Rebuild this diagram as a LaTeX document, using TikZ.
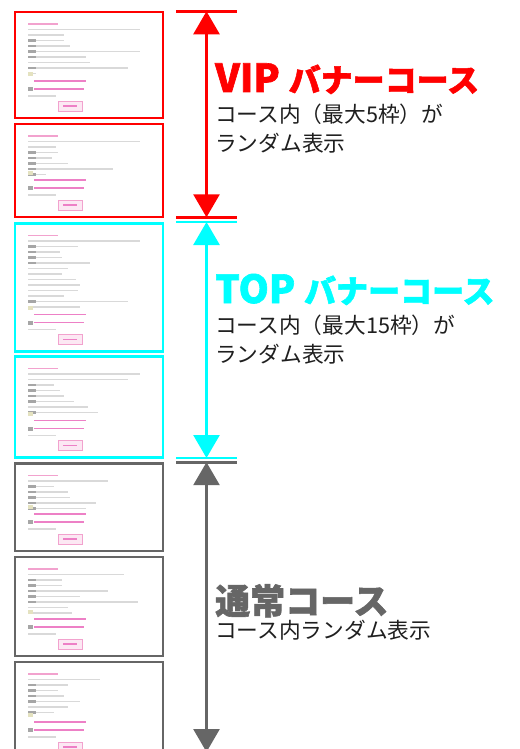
\documentclass[tikz,border=0pt]{standalone}
\usepackage{fontspec}
\usetikzlibrary{arrows.meta}
\newfontfamily\jp{Noto Sans CJK JP}
\newfontfamily\jpheavy[BoldFeatures={FakeBold=1.6}]{Noto Sans CJK JP}
\definecolor{vipred}{HTML}{FF0000}
\definecolor{topcyan}{HTML}{00FFFF}
\definecolor{stdgray}{HTML}{666666}
\definecolor{linkpink}{HTML}{E860B8}
\definecolor{headpink}{HTML}{F2A2CE}

% one banner thumbnail: name, top, bottom, frame style, text lines (length/label)
\newcommand{\thumb}[5]{%
  \pgfmathsetmacro\thumbh{#3-#2}
  \node[#4, minimum height=\thumbh pt] (#1) at (15,#2) {};
  \begin{scope}[shift={(#1.north west)}]
    \draw[headline] (13,12) -- ++(30,0);
    \foreach \len/\lab [count=\i] in {#5} {
      \draw[txtline] (13,{12+5.5*\i}) -- ++(\len,0);
      \ifnum\lab=1 \draw[labline] (13,{12+5.5*\i}) -- ++(8,0); \fi
    }
  \end{scope}
  \begin{scope}[shift={(#1.south west)}]
    \fill[yellow!40!gray!40] (13,-46) rectangle ++(5,4);
    \draw[linkline] (19,-37) -- ++(52,0);
    \fill[gray!70] (13,-31) rectangle ++(5,4);
    \draw[linkline] (19,-29) -- ++(50,0);
    \draw[txtline] (13,-22) -- ++(28,0);
    \draw[headpink, fill=headpink!25, line width=0.6pt] (43,-17) rectangle (67,-7);
    \draw[linkline] (48,-12) -- ++(14,0);
  \end{scope}
}

\begin{document}
\begin{tikzpicture}[x=1pt, y=-1pt,
    frame/.style={draw, rectangle, line width=2.3pt, minimum width=148pt,
      inner sep=0pt, outer sep=0pt, anchor=north west},
    vipframe/.style={frame, draw=vipred},
    topframe/.style={frame, draw=topcyan},
    stdframe/.style={frame, draw=stdgray},
    txtline/.style={gray!30, line width=1.8pt},
    labline/.style={gray!70, line width=2.2pt},
    headline/.style={headpink, line width=1.8pt},
    linkline/.style={linkpink!80, line width=1.6pt},
    tick/.style={line width=2.7pt},
    span/.style={line width=2.7pt,
      {Triangle[width=26pt,length=23pt]}-{Triangle[width=26pt,length=23pt]}},
    title/.style={font=\jpheavy\bfseries, anchor=base west, inner sep=0pt},
    note/.style={font=\jp\fontsize{21.7}{29}\selectfont, text=black!88,
      anchor=base west, inner sep=0pt, align=left}]
  \clip (0,0) rectangle (519,749);
  \fill[white] (0,0) rectangle (519,749);

  % banner thumbnails
  \thumb{vip1}{12}{118}{vipframe}{112/0,36/0,36/1,42/1,112/1,58/1,62/0,100/1,8/0}
  \thumb{vip2}{124}{217}{vipframe}{112/0,28/0,30/1,24/1,40/1,85/1,18/1}
  \thumb{top1}{223.5}{351.5}{topframe}{112/0,50/1,32/1,34/1,62/1,40/0,34/0,48/0,52/0,50/0,36/0,100/1,52/0}
  \thumb{top2}{356.5}{457.5}{topframe}{112/0,100/0,26/1,32/1,36/1,46/1,60/0,70/1}
  \thumb{std1}{463.5}{551}{stdframe}{80/0,26/1,40/1,42/1,68/1,58/1}
  \thumb{std2}{557}{656}{stdframe}{96/0,34/1,34/1,80/1,52/1,110/1,40/0,44/0}
  \thumb{std3}{662}{759}{stdframe}{72/0,40/1,30/1,36/1,52/1,40/0,26/1}

  % ranges
  \coordinate (vipA) at (206.5,11.3);
  \coordinate (vipB) at (206.5,217.3);
  \coordinate (topA) at (206.5,222);
  \coordinate (topB) at (206.5,458);
  \coordinate (stdA) at (206.5,462.2);
  \coordinate (stdB) at (206.5,752);

  \draw[tick, vipred] ([xshift=-30.5pt]vipA) -- ([xshift=30.5pt]vipA);
  \draw[tick, vipred] ([xshift=-30.5pt]vipB) -- ([xshift=30.5pt]vipB);
  \draw[tick, topcyan] ([xshift=-30.5pt]topA) -- ([xshift=30.5pt]topA);
  \draw[tick, topcyan] ([xshift=-30.5pt]topB) -- ([xshift=30.5pt]topB);
  \draw[tick, stdgray] ([xshift=-30.5pt]stdA) -- ([xshift=30.5pt]stdA);

  \draw[span, vipred] (vipA) -- (vipB);
  \draw[span, topcyan] (topA) -- (topB);
  \draw[span, stdgray] (stdA) -- (stdB);

  % labels (a two-line note sits on its last line)
  \node[title, text=vipred] (viptitle) at (215,92)
    {\fontsize{38.5}{40}\selectfont VIP {\fontsize{32}{40}\selectfont バナーコース}};
  \node[note] (vipnote) at (215,151.5) {コース内（最大5枠）が\\ランダム表示};

  \node[title, text=topcyan] (toptitle) at (215,303)
    {\fontsize{38.5}{40}\selectfont TOP {\fontsize{32}{40}\selectfont バナーコース}};
  \node[note] (topnote) at (215,362.5) {コース内（最大15枠）が\\ランダム表示};

  \node[title, text=stdgray] (stdtitle) at (215,614)
    {\fontsize{35}{40}\selectfont 通常コース};
  \node[note] (stdnote) at (215,638.5) {コース内ランダム表示};
\end{tikzpicture}
\end{document}
